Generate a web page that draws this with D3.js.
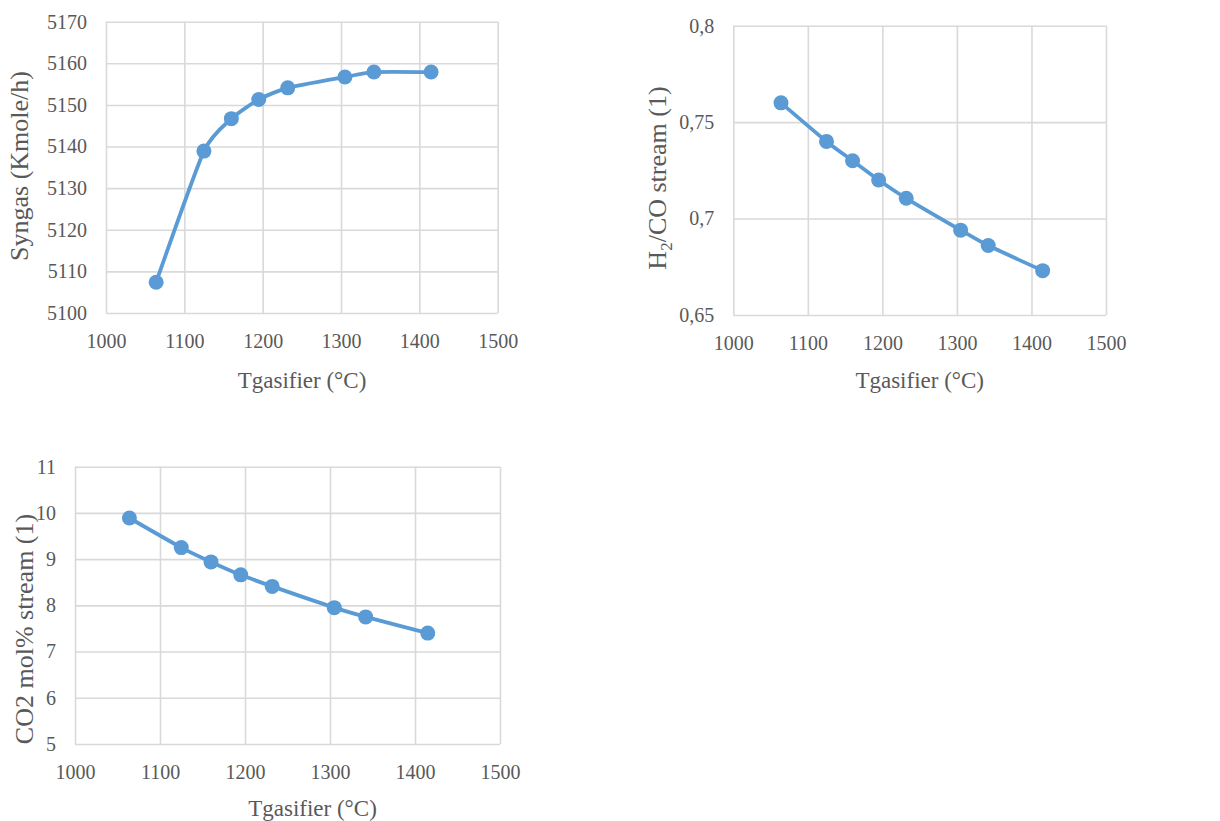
<!DOCTYPE html>
<html lang="en">
<head>
<meta charset="utf-8">
<title>Tgasifier charts</title>
<script src="https://cdn.jsdelivr.net/npm/d3@7"></script>
<style>
  body { margin: 0; background: #fff; }
  svg text { font-family: "Liberation Serif", "DejaVu Serif", serif; fill: #595959; }
</style>
</head>
<body>
<script>
// data
var tGasifier = [1064, 1125, 1160, 1195, 1232, 1305, 1342, 1415];
var syngas    = [5107.4, 5138.9, 5146.7, 5151.3, 5154.1, 5156.7, 5157.9, 5157.9];
var h2coRatio = [0.760, 0.740, 0.730, 0.720, 0.7105, 0.694, 0.686, 0.673];
var co2Mol    = [9.89, 9.25, 8.94, 8.66, 8.41, 7.95, 7.75, 7.40];

var xTicks      = [1000, 1100, 1200, 1300, 1400, 1500];
var syngasTicks = [5100, 5110, 5120, 5130, 5140, 5150, 5160, 5170];
var h2coTicks   = [0.65, 0.7, 0.75, 0.8];
var co2Ticks    = [5, 6, 7, 8, 9, 10, 11];

var W = 1220, H = 821;
var blue = "#5b9bd5", grid = "#d9d9d9";

var svg = d3.select("body").append("svg")
    .attr("width", W)
    .attr("height", H);

var commaLocale = d3.formatLocale({decimal: ",", thousands: ".", grouping: [3], currency: ["", ""]});

// one chart: scales, grid axes, line and markers
function drawChart(c) {
  var x = d3.scaleLinear().domain([1000, 1500]).range([c.left, c.right]);
  var y = d3.scaleLinear().domain(c.yDomain).range([c.bottom, c.top]);
  var g = svg.append("g");

  var yAxis = d3.axisLeft(y)
      .tickValues(c.yTicks)
      .tickFormat(c.fmt)
      .tickSizeInner(-(c.right - c.left))
      .tickSizeOuter(0)
      .tickPadding(19);
  var gy = g.append("g")
      .attr("transform", "translate(" + c.left + ",0)")
      .call(yAxis);

  var xAxis = d3.axisBottom(x)
      .tickValues(xTicks)
      .tickFormat(d3.format("d"))
      .tickSizeInner(-(c.bottom - c.top))
      .tickSizeOuter(0)
      .tickPadding(21);
  var gx = g.append("g")
      .attr("transform", "translate(0," + c.bottom + ")")
      .call(xAxis);

  [gx, gy].forEach(function(a) {
    a.attr("font-family", null);
    a.select(".domain").remove();
    a.selectAll("line").attr("stroke", grid).attr("stroke-width", 1.6);
    a.selectAll("text")
     .attr("font-size", 20)
     .attr("fill", "#595959");
  });

  var pts = tGasifier.map(function(t, i) { return [t, c.values[i]]; });
  var line = d3.line()
      .x(function(d) { return x(d[0]); })
      .y(function(d) { return y(d[1]); })
      .curve(d3.curveCardinal.tension(0.4));

  g.append("path")
   .datum(pts)
   .attr("d", line)
   .attr("fill", "none")
   .attr("stroke", blue)
   .attr("stroke-width", 3.8)
   .attr("stroke-linejoin", "round");

  g.selectAll("circle")
   .data(pts)
   .enter()
   .append("circle")
   .attr("cx", function(d) { return x(d[0]); })
   .attr("cy", function(d) { return y(d[1]); })
   .attr("r", 7.5)
   .attr("fill", blue);

  // x title
  g.append("text")
   .attr("x", c.xTitleX)
   .attr("y", c.xTitleY)
   .attr("dy", "0.35em")
   .attr("text-anchor", "middle")
   .attr("font-size", 23)
   .text("Tgasifier (°C)");

  // y title
  var yt = g.append("text")
   .attr("transform", "translate(" + c.yTitleX + "," + c.yTitleY + ") rotate(-90)")
   .attr("dy", "0.35em")
   .attr("text-anchor", "middle")
   .attr("font-size", 26);
  c.yTitle(yt);
}

drawChart({
  left: 106, right: 497.7, top: 21.7, bottom: 313,
  yDomain: [5100, 5170], yTicks: syngasTicks, values: syngas,
  fmt: d3.format("d"),
  xTitleX: 302, xTitleY: 380,
  yTitleX: 19, yTitleY: 166,
  yTitle: function(t) { t.text("Syngas (Kmole/h)"); }
});

drawChart({
  left: 733.3, right: 1106, top: 25.7, bottom: 315,
  yDomain: [0.65, 0.8], yTicks: h2coTicks, values: h2coRatio,
  fmt: commaLocale.format(".2~f"),
  xTitleX: 919.7, xTitleY: 380,
  yTitleX: 657, yTitleY: 178,
  yTitle: function(t) {
    t.append("tspan").text("H");
    t.append("tspan").attr("font-size", 17).attr("dy", 6).text("2");
    t.append("tspan").attr("dy", -6).text("/CO stream (1)");
  }
});

drawChart({
  left: 75, right: 500, top: 466.7, bottom: 744,
  yDomain: [5, 11], yTicks: co2Ticks, values: co2Mol,
  fmt: d3.format("d"),
  xTitleX: 312.5, xTitleY: 808,
  yTitleX: 24, yTitleY: 629,
  yTitle: function(t) { t.text("CO2 mol% stream (1)"); }
});
</script>
</body>
</html>
